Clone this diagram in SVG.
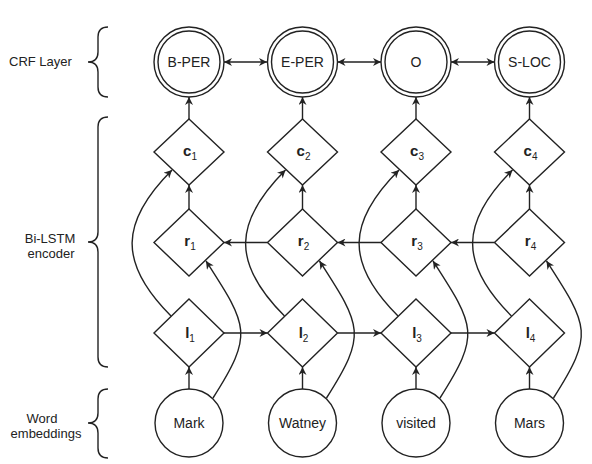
<svg xmlns="http://www.w3.org/2000/svg" width="592" height="464" viewBox="0 0 592 464">
<style>
.n{fill:#fff;stroke:#222;stroke-width:1.4}
.e{fill:none;stroke:#222;stroke-width:1.4}
.t{font-family:"Liberation Sans",Arial,sans-serif;font-size:14px;fill:#222;text-anchor:middle}
.v{font-family:"Liberation Sans",Arial,sans-serif;font-size:15px;font-weight:bold;fill:#222;text-anchor:middle}
.s{font-size:10px;font-weight:normal}
.lab{font-family:"Liberation Sans",Arial,sans-serif;font-size:13px;fill:#222}
</style>
<defs>
<marker id="a" viewBox="0 0 10 10" refX="10" refY="5" markerWidth="9" markerHeight="8" markerUnits="userSpaceOnUse" orient="auto-start-reverse">
<path d="M0,0 L10,5 L0,10 L3,5 z" fill="#222"/>
</marker>
</defs>
<rect width="592" height="464" fill="#fff"/>
<g id="labels">
<text class="lab" x="9" y="66">CRF Layer</text>
<text class="lab" x="50" y="243" text-anchor="middle">Bi-LSTM</text>
<text class="lab" x="51" y="258" text-anchor="middle">encoder</text>
<text class="lab" x="42" y="423" text-anchor="middle">Word</text>
<text class="lab" x="46" y="438" text-anchor="middle">embeddings</text>
<path class="e" d="M108,27 Q98,27 98,37 L98,52 Q98,62 88,62 Q98,62 98,72 L98,87 Q98,97 108,97"/>
<path class="e" d="M108,117 Q98,117 98,127 L98,232 Q98,242 88,242 Q98,242 98,252 L98,357 Q98,367 108,367"/>
<path class="e" d="M108,389 Q98,389 98,399 L98,413 Q98,423 88,423 Q98,423 98,433 L98,448 Q98,458 108,458"/>
</g>
<g id="connectors" class="e">
<!-- CRF bidirectional -->
<path d="M224,62 L267,62" marker-start="url(#a)" marker-end="url(#a)"/>
<path d="M337.5,62 L381,62" marker-start="url(#a)" marker-end="url(#a)"/>
<path d="M451,62 L494.5,62" marker-start="url(#a)" marker-end="url(#a)"/>
<!-- c -> CRF -->
<path d="M189,119 L189,97" marker-end="url(#a)"/>
<path d="M302.5,119 L302.5,97" marker-end="url(#a)"/>
<path d="M416,119 L416,97" marker-end="url(#a)"/>
<path d="M529.5,119 L529.5,97" marker-end="url(#a)"/>
<!-- r -> c -->
<path d="M189,209 L189,185" marker-end="url(#a)"/>
<path d="M302.5,209 L302.5,185" marker-end="url(#a)"/>
<path d="M416,209 L416,185" marker-end="url(#a)"/>
<path d="M529.5,209 L529.5,185" marker-end="url(#a)"/>
<!-- word -> l -->
<path d="M189,389 L189,367" marker-end="url(#a)"/>
<path d="M302.5,389 L302.5,367" marker-end="url(#a)"/>
<path d="M416,389 L416,367" marker-end="url(#a)"/>
<path d="M529.5,389 L529.5,367" marker-end="url(#a)"/>
<!-- l -> l -->
<path d="M224,333 L267.5,333" marker-end="url(#a)"/>
<path d="M337.5,333 L381,333" marker-end="url(#a)"/>
<path d="M451,333 L494.5,333" marker-end="url(#a)"/>
<!-- r <- r -->
<path d="M267.5,242.5 L224,242.5" marker-end="url(#a)"/>
<path d="M381,242.5 L337.5,242.5" marker-end="url(#a)"/>
<path d="M494.5,242.5 L451,242.5" marker-end="url(#a)"/>
<!-- l -> c curves -->
<path d="M171,316 C118,263 120,222 172,170" marker-end="url(#a)"/>
<path d="M284.5,316 C231.5,263 233.5,222 285.5,170" marker-end="url(#a)"/>
<path d="M398,316 C345,263 347,222 399,170" marker-end="url(#a)"/>
<path d="M511.5,316 C458.5,263 460.5,222 512.5,170" marker-end="url(#a)"/>
<!-- word -> r curves -->
<path d="M213,398 C254,334 248,326 206,261" marker-end="url(#a)"/>
<path d="M326.5,398 C367.5,334 361.5,326 319.5,261" marker-end="url(#a)"/>
<path d="M440,398 C481,334 475,326 433,261" marker-end="url(#a)"/>
<path d="M553.5,398 C594.5,334 588.5,326 546.5,261" marker-end="url(#a)"/>
</g>
<g id="crf1"><circle class="n" cx="189" cy="62" r="35"/><circle class="n" cx="189" cy="62" r="31"/><text class="t" x="189" y="67">B-PER</text></g>
<g id="crf2"><circle class="n" cx="302.5" cy="62" r="35"/><circle class="n" cx="302.5" cy="62" r="31"/><text class="t" x="302.5" y="67">E-PER</text></g>
<g id="crf3"><circle class="n" cx="416" cy="62" r="35"/><circle class="n" cx="416" cy="62" r="31"/><text class="t" x="416" y="67">O</text></g>
<g id="crf4"><circle class="n" cx="529.5" cy="62" r="35"/><circle class="n" cx="529.5" cy="62" r="31"/><text class="t" x="529.5" y="67">S-LOC</text></g>
<g id="c1"><path class="n" d="M189,119 L224,152 L189,185 L154,152 z"/><text class="v" x="190" y="156">c<tspan class="s" dy="4">1</tspan></text></g>
<g id="c2"><path class="n" d="M302.5,119 L337.5,152 L302.5,185 L267.5,152 z"/><text class="v" x="303.5" y="156">c<tspan class="s" dy="4">2</tspan></text></g>
<g id="c3"><path class="n" d="M416,119 L451,152 L416,185 L381,152 z"/><text class="v" x="417" y="156">c<tspan class="s" dy="4">3</tspan></text></g>
<g id="c4"><path class="n" d="M529.5,119 L564.5,152 L529.5,185 L494.5,152 z"/><text class="v" x="530.5" y="156">c<tspan class="s" dy="4">4</tspan></text></g>
<g id="r1"><path class="n" d="M189,209 L224,242.5 L189,276 L154,242.5 z"/><text class="v" x="190" y="246">r<tspan class="s" dy="4">1</tspan></text></g>
<g id="r2"><path class="n" d="M302.5,209 L337.5,242.5 L302.5,276 L267.5,242.5 z"/><text class="v" x="303.5" y="246">r<tspan class="s" dy="4">2</tspan></text></g>
<g id="r3"><path class="n" d="M416,209 L451,242.5 L416,276 L381,242.5 z"/><text class="v" x="417" y="246">r<tspan class="s" dy="4">3</tspan></text></g>
<g id="r4"><path class="n" d="M529.5,209 L564.5,242.5 L529.5,276 L494.5,242.5 z"/><text class="v" x="530.5" y="246">r<tspan class="s" dy="4">4</tspan></text></g>
<g id="l1"><path class="n" d="M189,299 L224,333 L189,367 L154,333 z"/><text class="v" x="190" y="338">l<tspan class="s" dy="4">1</tspan></text></g>
<g id="l2"><path class="n" d="M302.5,299 L337.5,333 L302.5,367 L267.5,333 z"/><text class="v" x="303.5" y="338">l<tspan class="s" dy="4">2</tspan></text></g>
<g id="l3"><path class="n" d="M416,299 L451,333 L416,367 L381,333 z"/><text class="v" x="417" y="338">l<tspan class="s" dy="4">3</tspan></text></g>
<g id="l4"><path class="n" d="M529.5,299 L564.5,333 L529.5,367 L494.5,333 z"/><text class="v" x="530.5" y="338">l<tspan class="s" dy="4">4</tspan></text></g>
<g id="w1"><circle class="n" cx="189" cy="423" r="34"/><text class="t" x="189" y="428">Mark</text></g>
<g id="w2"><circle class="n" cx="302.5" cy="423" r="34"/><text class="t" x="302.5" y="428">Watney</text></g>
<g id="w3"><circle class="n" cx="416" cy="423" r="34"/><text class="t" x="416" y="428">visited</text></g>
<g id="w4"><circle class="n" cx="529.5" cy="423" r="34"/><text class="t" x="529.5" y="428">Mars</text></g>
</svg>
